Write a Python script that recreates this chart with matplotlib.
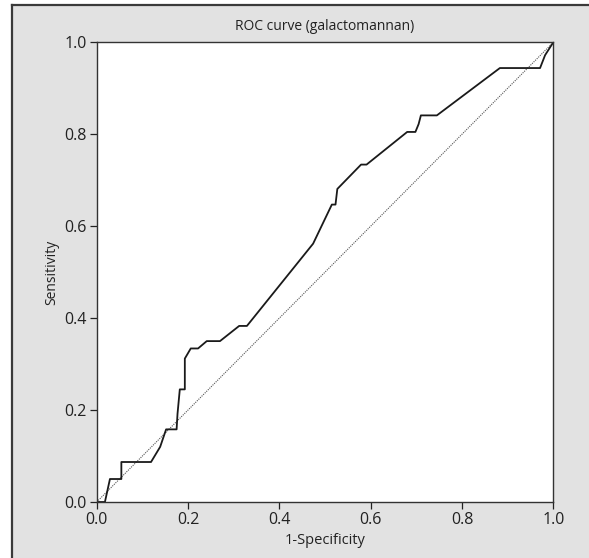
import matplotlib
matplotlib.use("Agg")
import matplotlib.pyplot as plt
from matplotlib.patches import Rectangle
from matplotlib.lines import Line2D

# ROC points for galactomannan (1-specificity, sensitivity)
fpr = [0.0, 0.018, 0.029, 0.054, 0.054, 0.119, 0.139, 0.152, 0.175, 0.177,
       0.182, 0.193, 0.193, 0.206, 0.222, 0.241, 0.270, 0.312, 0.329, 0.474,
       0.515, 0.523, 0.527, 0.579, 0.591, 0.680, 0.698, 0.705, 0.710, 0.745,
       0.883, 0.971, 0.982, 1.0]
tpr = [0.0, 0.0, 0.050, 0.050, 0.087, 0.087, 0.120, 0.158, 0.158, 0.192,
       0.245, 0.245, 0.312, 0.334, 0.334, 0.350, 0.350, 0.383, 0.383, 0.562,
       0.647, 0.647, 0.681, 0.734, 0.734, 0.805, 0.805, 0.822, 0.841, 0.841,
       0.944, 0.944, 0.972, 1.0]
ref_line = [0.0, 1.0]
ticks = [0.0, 0.2, 0.4, 0.6, 0.8, 1.0]
tick_labels = ["0.0", "0.2", "0.4", "0.6", "0.8", "1.0"]

plt.rcParams['font.family'] = ['Open Sans', 'DejaVu Sans']

W, H = 589, 558
fig = plt.figure(figsize=(W / 100, H / 100), dpi=100)
fig.patch.set_facecolor("white")

# grey panel behind the plot, bordered on the left and top
x0, y1 = 12 / W, 1 - 5 / H
fig.patches.append(Rectangle((x0, 0), 1 - x0, y1, transform=fig.transFigure,
                             facecolor="#e2e2e2", edgecolor="none", zorder=-10))
fig.lines.append(Line2D([x0, x0], [0, y1], transform=fig.transFigure,
                        color="#3a3a3a", lw=1.6, zorder=-9))
fig.lines.append(Line2D([x0, 1], [y1, y1], transform=fig.transFigure,
                        color="#3a3a3a", lw=1.6, zorder=-9))

ax = fig.add_axes([96.7 / W, 1 - 502 / H, 456.6 / W, 459.7 / H])
ax.set_facecolor("white")
ax.plot(ref_line, ref_line, color="#555555", lw=0.8, ls=(0, (1.0, 1.0)))
ax.plot(fpr, tpr, color="#1a1a1a", lw=1.3)

ax.set_xlim(0, 1)
ax.set_ylim(0, 1)
ax.set_xticks(ticks)
ax.set_xticklabels(tick_labels)
ax.set_yticks(ticks)
ax.set_yticklabels(tick_labels)
ax.tick_params(direction="out", length=5, width=0.9, colors="#222222",
               labelsize=11.5, pad=2)
for s in ax.spines.values():
    s.set_color("#333333")
    s.set_linewidth(1.0)

ax.set_title("ROC curve (galactomannan)", fontsize=10, color="#222222", pad=9)
ax.set_xlabel("1-Specificity", fontsize=10.5, color="#222222", labelpad=4)
ax.set_ylabel("Sensitivity", fontsize=10, color="#222222", labelpad=4)

fig.savefig("out.png", dpi=100)
